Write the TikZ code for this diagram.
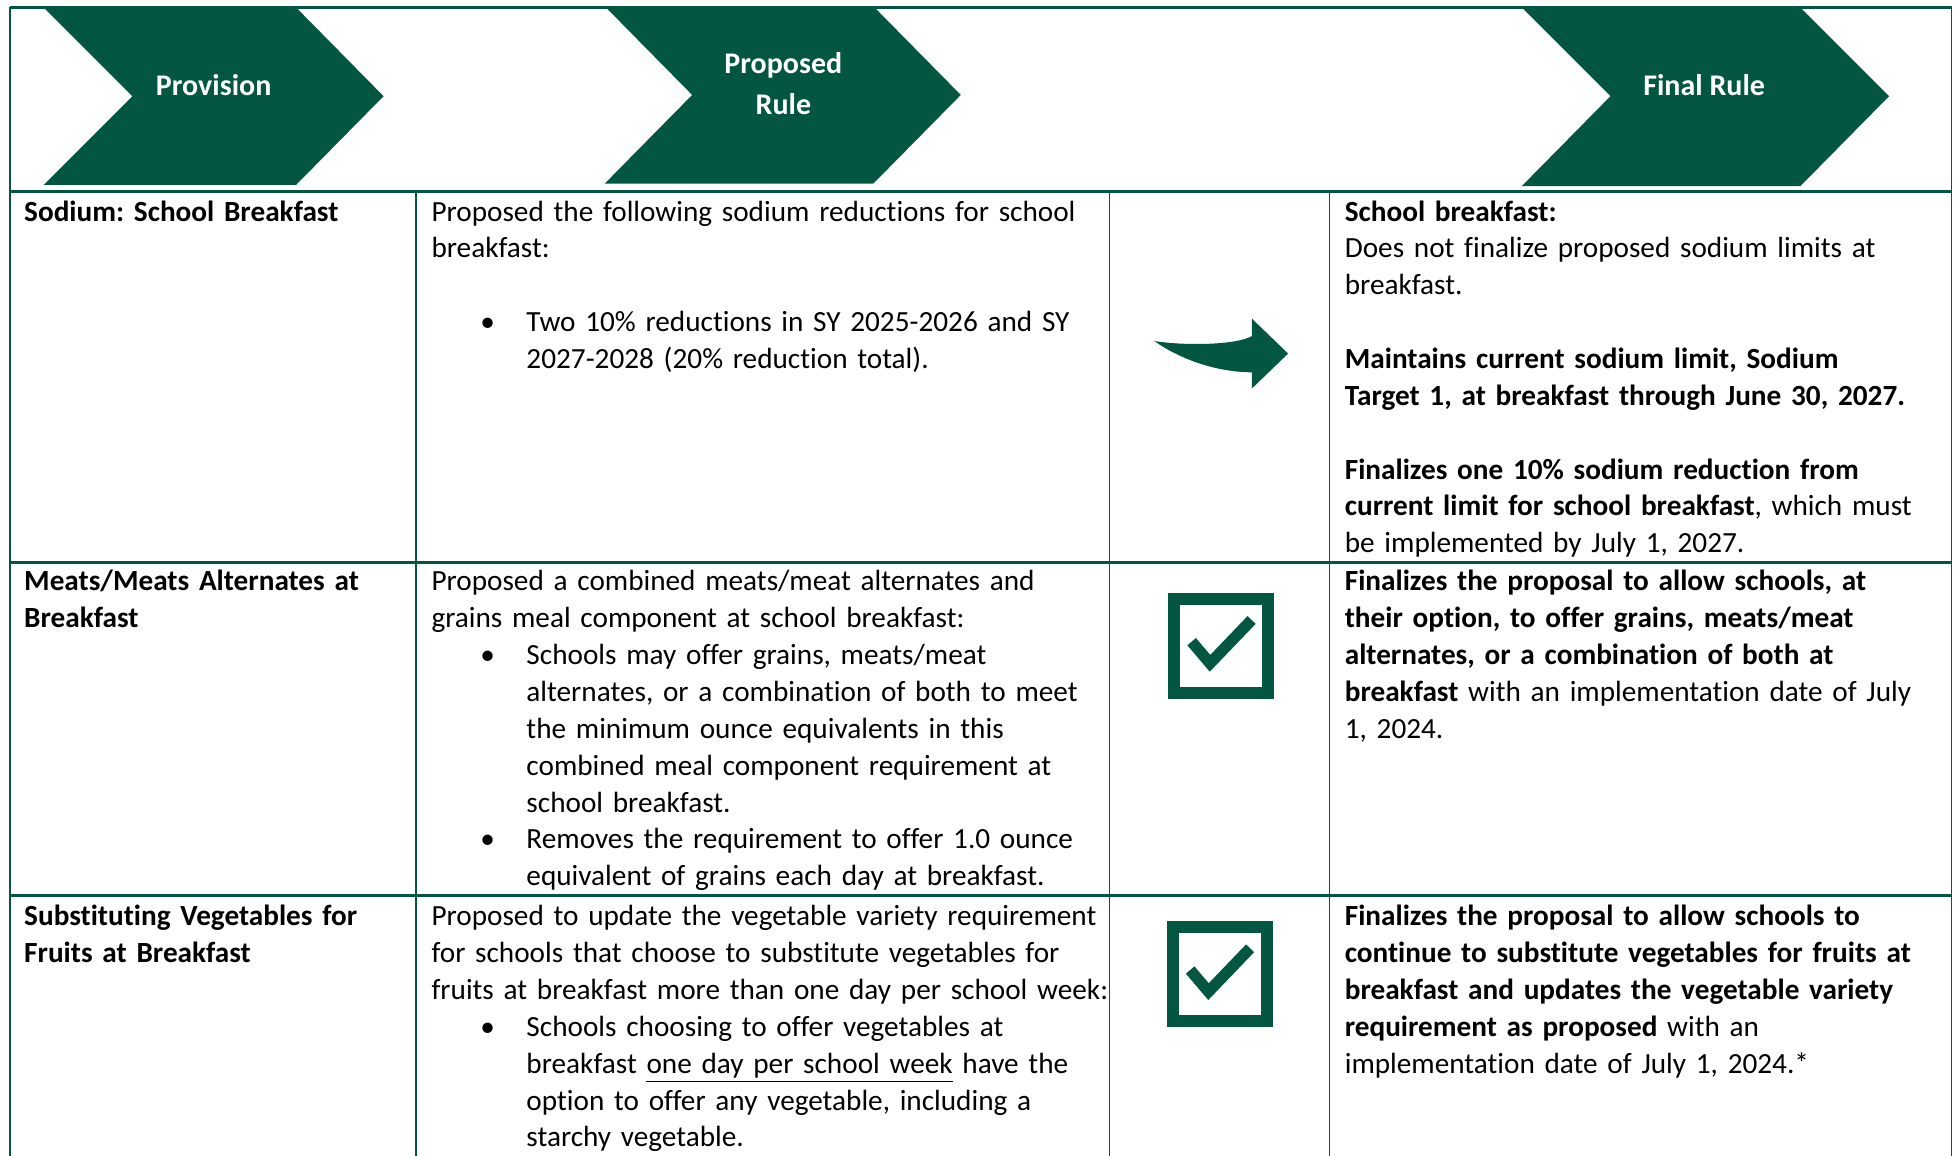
\documentclass[tikz,border=0pt]{standalone}
\usepackage{fontspec}
\setmainfont{Carlito}[Ligatures = NoCommon]
\definecolor{fnsgreen}{RGB}{2,86,66}
\newcommand{\celltext}{\fontsize{11.7}{14.75}\selectfont\frenchspacing}

\begin{document}
\begin{tikzpicture}[x = 0.5pt, y = -0.5pt,
	hrule/.style = {fnsgreen, line width = 1.2pt},
	vrule/.style = {fnsgreen, line width = 0.6pt},
	chevron/.style = {fill = fnsgreen},
	head/.style = {text = white, inner sep = 0pt, align = center, font = \bfseries\fontsize{12}{16.5}\selectfont},
	cell/.style = {anchor = base west, inner sep = 0pt, text width = 300pt, align = left, font = \celltext},
	dot/.style = {anchor = base west, inner sep = 0pt, font = \celltext},
	icon/.style = {fnsgreen, line width = 4.75pt, line join = miter}]
	%	frame
	\useasboundingbox (0, 0) rectangle (1568, 925);
	\def\ls{29.5}
	\def\rowA{177}
	\def\rowB{473}
	\def\rowC{741}
	
	%	header chevrons
	\fill[chevron] (35, 6) -- (237, 6) -- (307, 77) -- (237, 148) -- (35, 148) -- (106, 77) -- cycle;
	\fill[chevron] (485, 6) -- (700, 6) -- (769, 76) -- (699, 147) -- (484, 147) -- (554, 76) -- cycle;
	\fill[chevron] (1218, 6) -- (1441, 6) -- (1512, 77) -- (1441, 149) -- (1218, 149) -- (1289, 77) -- cycle;
	\node[head] (provision) at (171, 68) {Provision};
	\node[head] (proposed) at (627, 67) {Proposed\\Rule};
	\node[head] (final) at (1364, 68) {Final Rule};
	
	%	grid
	\draw[hrule, line width = 0.9pt] (8, 6) -- (1562, 6);
	\foreach \y in {153, 450, 717}
		\draw[hrule] (8, \y) -- (1562, \y);
	\foreach \x in {8, 1562}
		\draw[vrule] (\x, 6) -- (\x, 925);
	\foreach \x in {333, 888, 1064}
		\draw[vrule] (\x, 153) -- (\x, 925);
	
	%	provision column
	\node[cell] (provA) at (19, \rowA) {\textbf{Sodium: School Breakfast}};
	\node[cell] (provB) at (19, \rowB) {\textbf{Meats/Meats Alternates at}\\\textbf{Breakfast}};
	\node[cell] (provC) at (19, \rowC) {\textbf{Substituting Vegetables for}\\\textbf{Fruits at Breakfast}};
	
	%	proposed rule column
	\node[cell] (propA) at (345, \rowA) {Proposed the following sodium reductions for school\\breakfast:};
	\node[dot] (dotA) at (384, \rowA+3*\ls) {\textbullet};
	\node[cell] (itemA) at (421, \rowA+3*\ls) {Two 10\% reductions in SY 2025-2026 and SY\\2027-2028 (20\% reduction total).};
	
	\node[cell] (propB) at (345, \rowB) {Proposed a combined meats/meat alternates and\\grains meal component at school breakfast:};
	\node[dot] (dotB) at (384, \rowB+2*\ls) {\textbullet};
	\node[cell] (itemB) at (421, \rowB+2*\ls) {Schools may offer grains, meats/meat\\alternates, or a combination of both to meet\\the minimum ounce equivalents in this\\combined meal component requirement at\\school breakfast.};
	\node[dot] (dotBB) at (384, \rowB+7*\ls) {\textbullet};
	\node[cell] (itemBB) at (421, \rowB+7*\ls) {Removes the requirement to offer 1.0 ounce\\equivalent of grains each day at breakfast.};
	
	\node[cell] (propC) at (345, \rowC) {Proposed to update the vegetable variety requirement\\for schools that choose to substitute vegetables for\\fruits at breakfast more than one day per school week:};
	\node[dot] (dotC) at (384, \rowC+3*\ls) {\textbullet};
	\node[cell] (itemC) at (421, \rowC+3*\ls) {Schools choosing to offer vegetables at\\breakfast \underline{one day per school week} have the\\option to offer any vegetable, including a\\starchy vegetable.};
	
	%	arrow and checks
	\fill[fnsgreen] (924, 273) .. controls (950, 277) and (990, 276) .. (1002, 269) -- (1002, 255) -- (1031, 283) -- (1002, 311) -- (1002, 298) .. controls (975, 298) and (945, 288) .. (924, 273) -- cycle;
	\foreach \cx/\cy in {977.4/516.9, 976.2/779.7}{
		\draw[icon] (\cx-37.6, \cy-37.6) rectangle (\cx+37.6, \cy+37.6);
		\draw[icon, line width = 4.5pt] (\cx-23.6, \cy-3.3) -- (\cx-8.9, \cy+14) -- (\cx+24.4, \cy-20.7);
	}
	
	%	final rule column
	\node[cell] (finA) at (1076, \rowA) {\textbf{School breakfast:}\\Does not finalize proposed sodium limits at\\breakfast.\\[14.75pt]\textbf{Maintains current sodium limit, Sodium}\\\textbf{Target 1, at breakfast through June 30, 2027.}\\[14.75pt]\textbf{Finalizes one 10\% sodium reduction from}\\\textbf{current limit for school breakfast}, which must\\be implemented by July 1, 2027.};
	\node[cell] (finB) at (1076, \rowB) {\textbf{Finalizes the proposal to allow schools, at}\\\textbf{their option, to offer grains, meats/meat}\\\textbf{alternates, or a combination of both at}\\\textbf{breakfast} with an implementation date of July\\1, 2024.};
	\node[cell] (finC) at (1076, \rowC) {\textbf{Finalizes the proposal to allow schools to}\\\textbf{continue to substitute vegetables for fruits at}\\\textbf{breakfast and updates the vegetable variety}\\\textbf{requirement as proposed} with an\\implementation date of July 1, 2024.*};
\end{tikzpicture}
\end{document}
